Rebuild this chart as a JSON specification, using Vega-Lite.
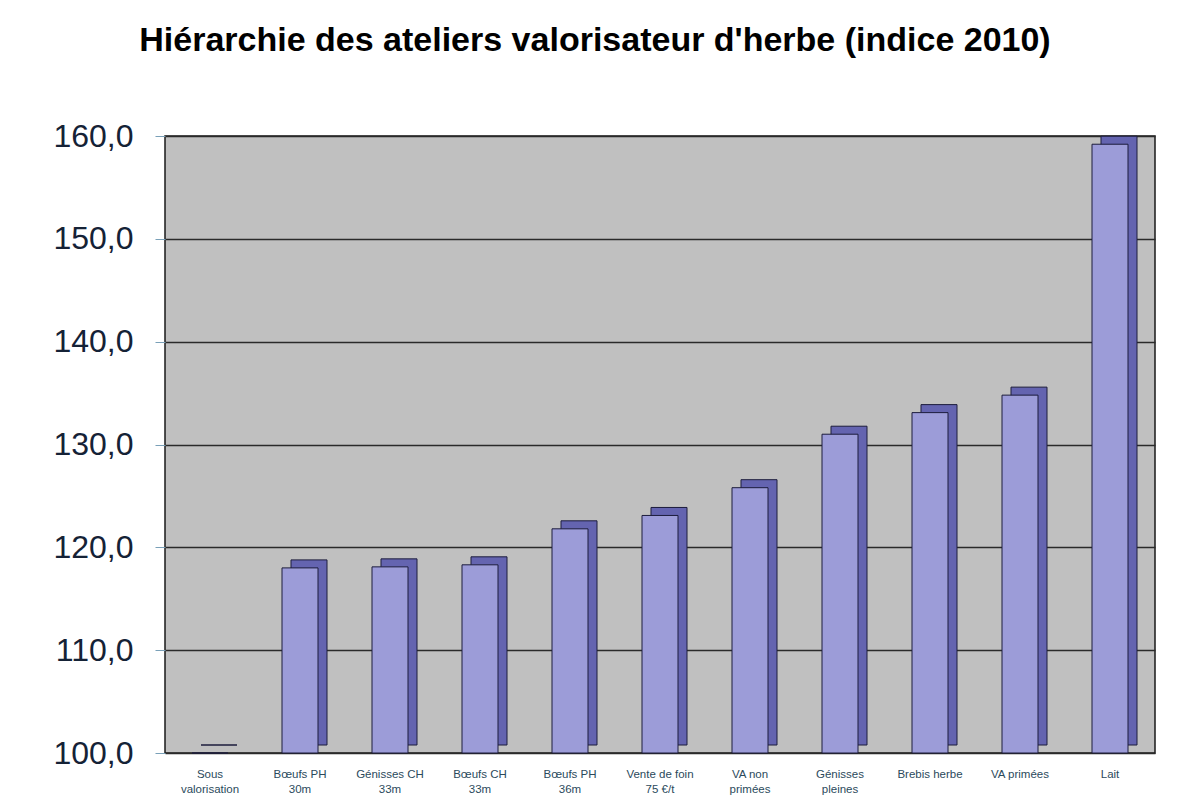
{
  "$schema": "https://vega.github.io/schema/vega-lite/v6.json",
  "autosize": {"type": "none"},
  "width": 990,
  "height": 617,
  "padding": {"left": 165, "top": 136, "right": 48, "bottom": 50},
  "background": "white",
  "config": {
    "locale": {"number": {"decimal": ",", "thousands": " ", "grouping": [3], "currency": ["", " €"]}},
    "font": "Liberation Sans",
    "view": {"fill": "#c0c0c0", "stroke": "#1a1a1a", "strokeWidth": 1.5}
  },
  "title": {
    "text": "Hiérarchie des ateliers valorisateur d'herbe (indice 2010)",
    "fontSize": 34,
    "fontWeight": "bold",
    "color": "#000000",
    "anchor": "middle",
    "dx": -65,
    "offset": 62,
    "font": "Liberation Sans"
  },
  "data": {
    "values": [
      {"atelier": "Sous|valorisation", "indice": 100.0},
      {"atelier": "Bœufs PH|30m", "indice": 118.0},
      {"atelier": "Génisses CH|33m", "indice": 118.1},
      {"atelier": "Bœufs CH|33m", "indice": 118.3},
      {"atelier": "Bœufs PH|36m", "indice": 121.8},
      {"atelier": "Vente de foin|75 €/t", "indice": 123.1},
      {"atelier": "VA non|primées", "indice": 125.8},
      {"atelier": "Génisses|pleines", "indice": 131.0},
      {"atelier": "Brebis herbe", "indice": 133.1},
      {"atelier": "VA primées", "indice": 134.8},
      {"atelier": "Lait", "indice": 159.2}
    ]
  },
  "encoding": {
    "x": {
      "field": "atelier",
      "type": "nominal",
      "sort": null,
      "scale": {"paddingInner": 0, "paddingOuter": 0},
      "axis": {
        "title": null,
        "labelAngle": 0,
        "labelExpr": "split(datum.label, '|')",
        "labelFontSize": 11.5,
        "labelColor": "#2b4a5c",
        "labelPadding": 15,
        "labelLineHeight": 15,
        "labelFont": "Liberation Sans",
        "ticks": false,
        "domain": false,
        "grid": false
      }
    },
    "y": {
      "field": "indice",
      "type": "quantitative",
      "scale": {"domain": [100, 160], "nice": false, "zero": false},
      "axis": {
        "title": null,
        "values": [100, 110, 120, 130, 140, 150, 160],
        "format": ".1f",
        "labelFontSize": 32,
        "labelColor": "#152236",
        "labelFont": "Liberation Sans",
        "labelPadding": 22,
        "tickSize": 10,
        "tickColor": "#7aa0b8",
        "domain": false,
        "grid": true,
        "gridColor": "#2a2a2a",
        "gridWidth": 1.5
      }
    },
    "y2": {"datum": 100}
  },
  "layer": [
    {
      "mark": {
        "type": "bar",
        "width": {"band": 0.4},
        "xOffset": 9,
        "yOffset": -8,
        "y2Offset": -8,
        "color": "#6464b0",
        "stroke": "#1c1c3c",
        "strokeWidth": 1
      }
    },
    {
      "mark": {
        "type": "bar",
        "width": {"band": 0.4},
        "color": "#9c9cd8",
        "stroke": "#1c1c3c",
        "strokeWidth": 1
      }
    }
  ]
}
